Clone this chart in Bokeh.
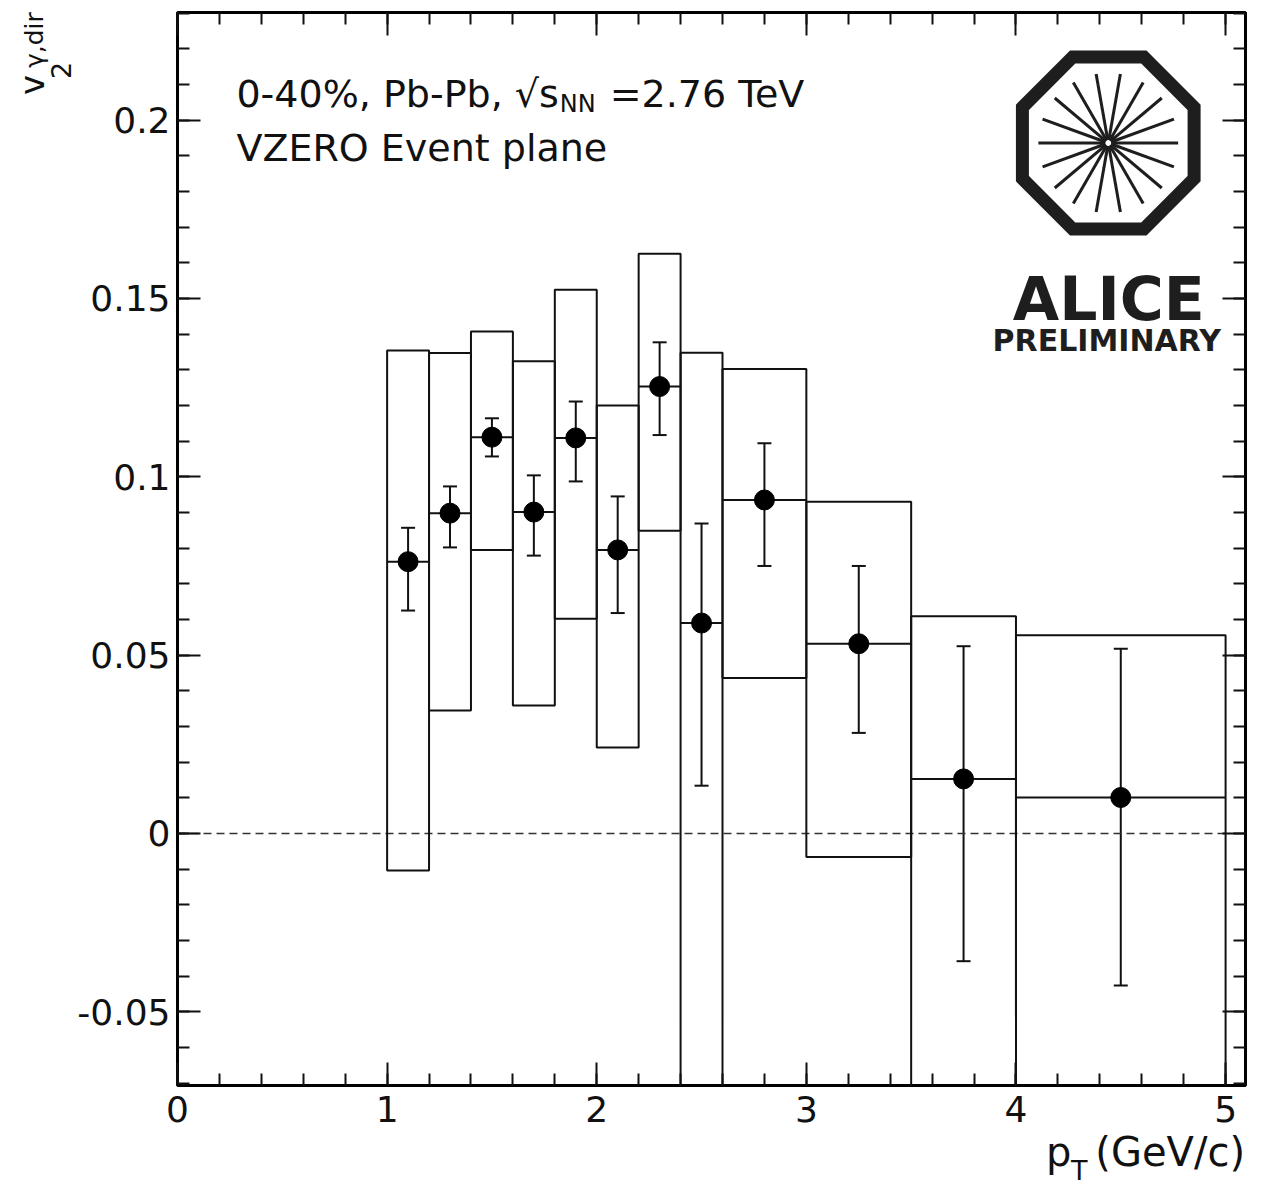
import numpy as np
from bokeh.plotting import figure
from bokeh.models import (ColumnDataSource, Whisker, TeeHead, Label, LinearAxis,
                          FixedTicker, Range1d, Div)
from bokeh.layouts import row, column
from bokeh.embed import file_html
from bokeh.resources import INLINE

# ---------------- data ----------------
bin_lo = [1.0, 1.2, 1.4, 1.6, 1.8, 2.0, 2.2, 2.4, 2.6, 3.0, 3.5, 4.0]
bin_hi = [1.2, 1.4, 1.6, 1.8, 2.0, 2.2, 2.4, 2.6, 3.0, 3.5, 4.0, 5.0]
pt = [1.1, 1.3, 1.5, 1.7, 1.9, 2.1, 2.3, 2.5, 2.8, 3.25, 3.75, 4.5]
v2 = [0.0762, 0.0898, 0.1111, 0.0901, 0.1109, 0.0795, 0.1253, 0.0590, 0.0935, 0.0532, 0.0153, 0.0101]
stat_hi = [0.0857, 0.0973, 0.1164, 0.1004, 0.1211, 0.0945, 0.1377, 0.0869, 0.1094, 0.0750, 0.0525, 0.0518]
stat_lo = [0.0625, 0.0802, 0.1057, 0.0779, 0.0987, 0.0618, 0.1117, 0.0134, 0.0750, 0.0282, -0.0358, -0.0426]
sys_hi = [0.1354, 0.1347, 0.1407, 0.1324, 0.1524, 0.1200, 0.1625, 0.1348, 0.1302, 0.0930, 0.0609, 0.0556]
sys_lo = [-0.0104, 0.0345, 0.0795, 0.0359, 0.0602, 0.0241, 0.0849, -0.0850, 0.0436, -0.0066, -0.0800, -0.0800]

zero_x = [0.0, 5.0]
zero_y = [0.0, 0.0]

x_ticks = [0, 1, 2, 3, 4, 5]
x_tick_labels = ["0", "1", "2", "3", "4", "5"]
y_ticks = [-0.05, 0.0, 0.05, 0.1, 0.15, 0.2]
y_tick_labels = ["-0.05", "0", "0.05", "0.1", "0.15", "0.2"]

# ---------------- geometry (page pixels, origin = top-left of layout) ----------------
XMIN, XMAX = 0.0, 5.095
YMIN, YMAX = -0.07065, 0.23016
W, H = 1247, 1181          # whole layout
YW = 74                    # width of the y-title strip
PW = W - YW                # figure width
FL, FR = 175, 1245         # frame edges
FT, FB = 12, 1085
PH = 1140                  # figure height
ML, MR, MT, MB = FL - YW, W - FR, FT, PH - FB


def to_data(xi, yi):
    xd = XMIN + (xi - FL) / (FR - FL) * (XMAX - XMIN)
    yd = YMAX - (yi - FT) / (FB - FT) * (YMAX - YMIN)
    return xd, yd


FONT = "DejaVu Sans"
INK = "#111111"

p = figure(width=PW, height=PH, x_range=Range1d(XMIN, XMAX), y_range=Range1d(YMIN, YMAX),
           output_backend="svg", toolbar_location=None, margin=(0, 0, 0, 0),
           min_border_left=ML, min_border_right=MR, min_border_top=MT, min_border_bottom=MB)
p.grid.visible = False
p.outline_line_color = "black"
p.outline_line_width = 3
p.background_fill_color = "white"
p.border_fill_color = "white"

x_minor = [round(v, 3) for v in np.arange(0.0, 5.01, 0.2)]
y_minor = [round(v, 3) for v in np.arange(-0.07, 0.2301, 0.01)]


def style_axis(ax, ticker, show_labels):
    ax.ticker = ticker
    ax.axis_line_color = None
    ax.major_tick_in = 23
    ax.major_tick_out = 0
    ax.minor_tick_in = 12
    ax.minor_tick_out = 0
    ax.major_tick_line_width = 2
    ax.minor_tick_line_width = 2
    ax.major_tick_line_color = INK
    ax.minor_tick_line_color = INK
    ax.axis_label = None
    ax.axis_label_standoff = 0
    if show_labels:
        ax.major_label_text_font = FONT
        ax.major_label_text_font_size = "36px"
        ax.major_label_text_color = INK
    else:
        ax.major_label_text_font_size = "0px"
        ax.major_label_text_color = None
        ax.major_label_text_alpha = 0
        ax.major_label_standoff = 0


xb = p.xaxis[0]
style_axis(xb, FixedTicker(ticks=x_ticks, minor_ticks=x_minor), True)
xb.major_label_standoff = 10
xb.major_label_overrides = {float(k): v for k, v in zip(x_ticks, x_tick_labels)}
yl = p.yaxis[0]
style_axis(yl, FixedTicker(ticks=y_ticks, minor_ticks=y_minor), True)
yl.major_label_standoff = 7
yl.major_label_overrides = {float(k): v for k, v in zip(y_ticks, y_tick_labels)}

xa = LinearAxis()
style_axis(xa, FixedTicker(ticks=x_ticks, minor_ticks=x_minor), False)
p.add_layout(xa, "above")
yr = LinearAxis()
style_axis(yr, FixedTicker(ticks=y_ticks, minor_ticks=y_minor), False)
p.add_layout(yr, "right")

# ---------------- data marks ----------------
src = ColumnDataSource(dict(bin_lo=bin_lo, bin_hi=bin_hi, pt=pt, v2=v2,
                            stat_hi=stat_hi, stat_lo=stat_lo, sys_hi=sys_hi, sys_lo=sys_lo))

p.line(zero_x, zero_y, line_dash="8 5", line_width=1.5, line_color="#333333")

p.quad(left="bin_lo", right="bin_hi", top="sys_hi", bottom="sys_lo", source=src,
       fill_color=None, line_color=INK, line_width=2)
p.segment(x0="bin_lo", x1="bin_hi", y0="v2", y1="v2", source=src,
          line_color=INK, line_width=2)
p.add_layout(Whisker(source=src, base="pt", upper="stat_hi", lower="stat_lo",
                     line_color=INK, line_width=2,
                     upper_head=TeeHead(size=14, line_width=2, line_color=INK),
                     lower_head=TeeHead(size=14, line_width=2, line_color=INK)))
p.scatter("pt", "v2", source=src, size=20, fill_color="black", line_color="black")


# ---------------- texts inside the frame ----------------
def lab(text, xi, yi, size, align="left", style="normal", color=INK):
    xd, yd = to_data(xi, yi)
    p.add_layout(Label(x=xd, y=yd, text=text, text_font=FONT, text_font_size=f"{size}px",
                       text_align=align, text_baseline="alphabetic", text_color=color,
                       text_font_style=style))


lab("0-40%, Pb-Pb, \u221as", 234, 93, 38)
lab("NN", 558, 103, 24)
lab("=2.76 TeV", 608, 93, 38)
lab("VZERO Event plane", 234, 147, 38)

# ---------------- ALICE logo ----------------
LOGO = "#1e1e1e"
cx, cy = 1107.5, 142.5
apo = 86.0
R = apo / np.cos(np.pi / 8)
ang = np.pi / 8 + np.arange(8) * np.pi / 4
oct_x, oct_y = zip(*[to_data(cx + R * np.cos(a), cy - R * np.sin(a)) for a in ang])
p.patch(list(oct_x), list(oct_y), fill_color=None, line_color=LOGO, line_width=13,
        line_join="miter")

sp = np.deg2rad(np.arange(0, 360, 20))
s0 = [to_data(cx + 3 * np.cos(a), cy - 3 * np.sin(a)) for a in sp]
s1 = [to_data(cx + 70 * np.cos(a), cy - 70 * np.sin(a)) for a in sp]
p.segment(x0=[a[0] for a in s0], y0=[a[1] for a in s0],
          x1=[a[0] for a in s1], y1=[a[1] for a in s1],
          line_color=LOGO, line_width=3)

lab("ALICE", 1108, 298, 60, align="center", style="bold", color=LOGO)
lab("PRELIMINARY", 1106, 340, 30, align="center", style="bold", color=LOGO)


# ---------------- axis titles (outside the frame, as HTML text) ----------------
CSSFONT = "DejaVu Sans,Verdana,sans-serif"


def span(text, left, top, size, rotate=False, right=None):
    pos = f"left:{left:.1f}px;" if right is None else f"right:{right:.1f}px;"
    rot = "transform:rotate(-90deg);transform-origin:0 0;" if rotate else ""
    return (f'<span style="position:absolute;{pos}top:{top:.1f}px;'
            f"font-family:{CSSFONT};font-size:{size}px;line-height:1;white-space:nowrap;"
            f'font-weight:normal;color:{INK};{rot}">{text}</span>')


ASC = 0.846  # baseline offset inside a line-height:1 box (DejaVu Sans)

# y title: v_2^{gamma,dir}, reads bottom-to-top; (baseline x, start y) in page pixels
ytitle = [("v", 44, 95, 34), ("2", 71, 79, 27), ("\u03b3,dir", 43, 68, 25)]
yhtml = "".join(span(t, bx - ASC * s, sy, s, rotate=True) for t, bx, sy, s in ytitle)
ydiv = Div(text=f'<div style="position:relative;width:{YW}px;height:{H}px;">{yhtml}</div>',
           width=YW, height=H, margin=(0, 0, 0, 0), styles={"overflow": "visible"})

# x title: p_T (GeV/c); (left x, baseline y) in page pixels
XH = H - PH
xparts = [("p", 1046, 1166, 40), ("T", 1071, 1180, 27)]
xhtml = "".join(span(t, lx - YW, by - ASC * s - PH, s) for t, lx, by, s in xparts)
xhtml += span("(GeV/c)", 0, 1166 - ASC * 40 - PH, 40, right=W - 1245)
xdiv = Div(text=f'<div style="position:relative;width:{PW}px;height:{XH}px;">{xhtml}</div>',
           width=PW, height=XH, margin=(0, 0, 0, 0), styles={"overflow": "visible"})

layout = row(ydiv, column(p, xdiv, spacing=0), spacing=0)

open("out.html", "w").write(file_html(layout, INLINE))
